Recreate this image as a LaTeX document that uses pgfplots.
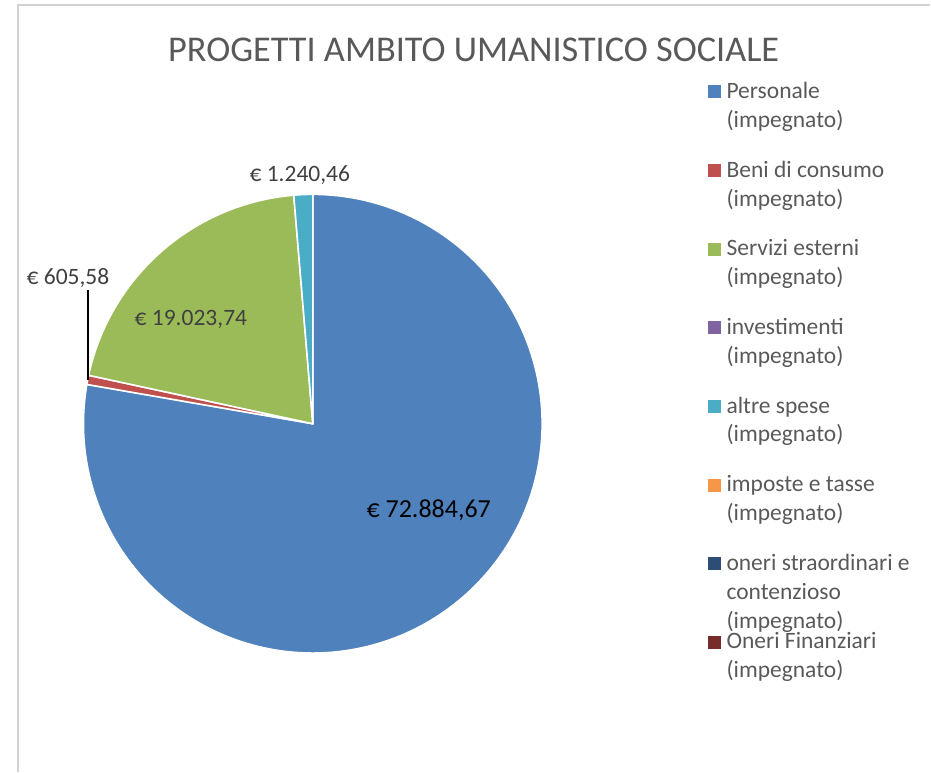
\documentclass[border=0pt]{standalone}
\usepackage{pgfplots}
\pgfplotsset{compat=1.18}
\usepackage{pgfplotstable}
\usepackage{fontspec}
\setmainfont{Carlito}

\definecolor{cPers}{HTML}{4F81BD}
\definecolor{cBeni}{HTML}{C0504D}
\definecolor{cServ}{HTML}{9BBB59}
\definecolor{cInv}{HTML}{8064A2}
\definecolor{cAltre}{HTML}{4BACC6}
\definecolor{cImp}{HTML}{F79646}
\definecolor{cOneri}{HTML}{2C4D75}
\definecolor{cFin}{HTML}{772C2A}
\definecolor{txt}{HTML}{404040}
\definecolor{ttl}{HTML}{595959}

% importi impegnati (euro)
\pgfplotstableread{
voce value
Personale 72884.67
Beni 605.58
Servizi 19023.74
Investimenti 0
Altre 1240.46
Imposte 0
Oneri 0
Finanziari 0
}\spese

\pgfplotstablegetelem{0}{value}\of\spese \let\vA\pgfplotsretval
\pgfplotstablegetelem{1}{value}\of\spese \let\vB\pgfplotsretval
\pgfplotstablegetelem{2}{value}\of\spese \let\vC\pgfplotsretval
\pgfplotstablegetelem{4}{value}\of\spese \let\vE\pgfplotsretval
\edef\tot{\fpeval{\vA+\vB+\vC+\vE}}
% angles: start at 12 o'clock, clockwise
\edef\aO{90}
\edef\aA{\fpeval{90-360*(\vA)/\tot}}
\edef\aB{\fpeval{90-360*(\vA+\vB)/\tot}}
\edef\aC{\fpeval{90-360*(\vA+\vB+\vC)/\tot}}
\edef\aE{\fpeval{90-360*(\vA+\vB+\vC+\vE)/\tot}}

\newcommand{\entry}[1]{\parbox[t]{200bp}{\strut #1}}

\begin{document}
\begin{tikzpicture}
\begin{axis}[
  width=931bp, height=772bp, scale only axis,
  xmin=0, xmax=931, ymin=0, ymax=772,
  hide axis, clip=false,
  every axis plot/.append style={draw=white, line width=1.6bp},
  legend image code/.code={\fill[#1, draw=none] (0bp,0bp) rectangle (13bp,13bp);},
  legend style={draw=none, fill=none, at={(axis cs:708,693.8)}, anchor=north west,
    inner sep=0pt, outer sep=0pt, column sep=6bp, row sep=56.9bp,
    cells={anchor=base west},
    nodes={inner sep=0pt, text=ttl, font=\fontsize{23.5bp}{29bp}\selectfont}},
]
% canvas and frame
\path (axis cs:0,0) rectangle (axis cs:931,772);
\draw[color=gray!35, line width=1.2bp] (axis cs:18,0) -- (axis cs:18,767) -- (axis cs:931,767);

% slices
\addplot[fill=cPers, domain=\aO:\aA, samples=200, forget plot]
  ({313+229.5*cos(x)},{348+229.5*sin(x)}) -- (axis cs:313,348) -- cycle;
\addplot[fill=cBeni, domain=\aA:\aB, samples=10, forget plot]
  ({313+229.5*cos(x)},{348+229.5*sin(x)}) -- (axis cs:313,348) -- cycle;
\addplot[fill=cServ, domain=\aB:\aC, samples=80, forget plot]
  ({313+229.5*cos(x)},{348+229.5*sin(x)}) -- (axis cs:313,348) -- cycle;
\addplot[fill=cAltre, domain=\aC:\aE, samples=10, forget plot]
  ({313+229.5*cos(x)},{348+229.5*sin(x)}) -- (axis cs:313,348) -- cycle;

% legend
\addlegendimage{fill=cPers}\addlegendentry{\entry{Personale\\(impegnato)}}
\addlegendimage{fill=cBeni}\addlegendentry{\entry{Beni di consumo\\(impegnato)}}
\addlegendimage{fill=cServ}\addlegendentry{\entry{Servizi esterni\\(impegnato)}}
\addlegendimage{fill=cInv}\addlegendentry{\entry{investimenti\\(impegnato)}}
\addlegendimage{fill=cAltre}\addlegendentry{\entry{altre spese\\(impegnato)}}
\addlegendimage{fill=cImp}\addlegendentry{\entry{imposte e tasse\\(impegnato)}}
\addlegendimage{fill=cOneri}\addlegendentry{\entry{oneri straordinari e\\contenzioso\\(impegnato)}}
\addlegendimage{fill=cFin}\addlegendentry{\entry{Oneri Finanziari\\(impegnato)}}

% title and data labels
\node[text=ttl, font=\fontsize{36.3bp}{42bp}\selectfont] at (axis cs:474,722) {PROGETTI AMBITO UMANISTICO SOCIALE};
\node[text=black, font=\fontsize{26bp}{30bp}\selectfont] at (axis cs:429,261) {€ 72.884,67};
\node[text=txt, font=\fontsize{23.5bp}{28bp}\selectfont] at (axis cs:191,452) {€ 19.023,74};
\node[text=txt, font=\fontsize{23.5bp}{28bp}\selectfont] at (axis cs:300,597) {€ 1.240,46};
\node[text=txt, font=\fontsize{23.5bp}{28bp}\selectfont] at (axis cs:68,494) {€ 605,58};
\draw[black, line width=1.2bp] (axis cs:88,482) -- (axis cs:88,392);
\end{axis}
\end{tikzpicture}
\end{document}
